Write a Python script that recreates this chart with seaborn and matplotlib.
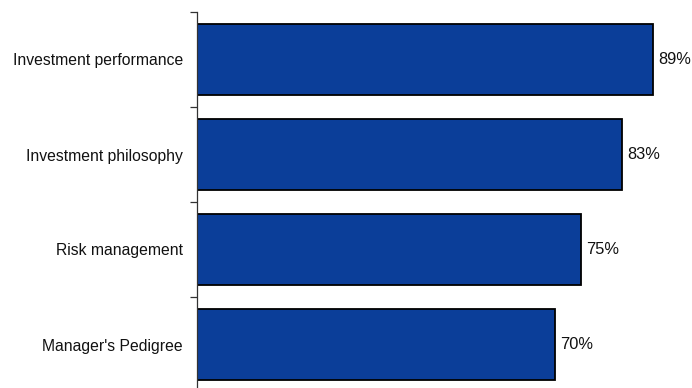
import matplotlib
matplotlib.use("Agg")
import matplotlib.pyplot as plt
import seaborn as sns
import pandas as pd

categories = ["Investment performance", "Investment philosophy", "Risk management", "Manager's Pedigree"]
values = [89, 83, 75, 70]
value_labels = ["89%", "83%", "75%", "70%"]

sns.set_style("white")
plt.rcParams["font.family"] = ["Liberation Sans", "DejaVu Sans"]

df = pd.DataFrame({"factor": categories, "share": values})

fig = plt.figure(figsize=(6.92, 3.88), dpi=100)
ax = fig.add_axes([197 / 692, -4 / 388, 512 / 692, 380 / 388])

sns.barplot(data=df, x="share", y="factor", orient="h", color="#0B3E99",
            saturation=1, width=0.74, edgecolor="black", linewidth=1.3, ax=ax)

ax.set_xlim(0, 100)
ax.set_ylim(len(categories) - 0.5, -0.5)

for bar, lab in zip(ax.patches, value_labels):
    ax.text(bar.get_width() + 1.0, bar.get_y() + bar.get_height() / 2, lab,
            va="center", ha="left", fontsize=11.8, color="#111111")

# category names as label-only ticks, boundary marks as visible ticks
ax.set_yticks([i for i in range(len(categories))], labels=categories, minor=True)
ax.set_yticks([i - 0.5 for i in range(len(categories) + 1)], labels=[""] * (len(categories) + 1))
ax.tick_params(axis="y", which="minor", length=0, pad=10, labelsize=11.3, labelcolor="#111111")
ax.tick_params(axis="y", which="major", length=5, width=0.9, color="#333333", direction="out", left=True)
ax.set_xticks([])
ax.set_xlabel("")
ax.set_ylabel("")

for side in ["top", "right", "bottom"]:
    ax.spines[side].set_visible(False)
ax.spines["left"].set_color("#333333")
ax.spines["left"].set_linewidth(0.9)

fig.savefig("out.png", dpi=100)
